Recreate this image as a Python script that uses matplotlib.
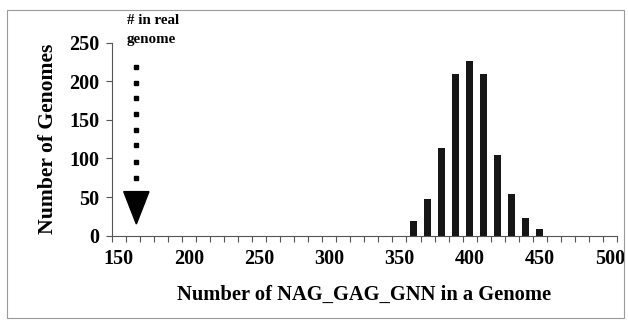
import numpy as np
import matplotlib
matplotlib.use('Agg')
import matplotlib.pyplot as plt
from matplotlib.patches import Rectangle, Polygon

# histogram of motif counts in simulated genomes
motif_counts = [360, 370, 380, 390, 400, 410, 420, 430, 440, 450]
num_genomes = [19, 47, 114, 210, 227, 210, 105, 54, 23, 8]
x_labels = [150, 200, 250, 300, 350, 400, 450, 500]
y_ticks = [0, 50, 100, 150, 200, 250]
real_count = 162.5

plt.rcParams['font.family'] = ['Liberation Serif', 'DejaVu Serif']
plt.rcParams['font.weight'] = 'bold'

fig = plt.figure(figsize=(6.28, 3.29), dpi=100)
ax = fig.add_axes([0.178, 0.284, 0.8045, 0.586])

ax.bar(motif_counts, num_genomes, width=5, color='#161616')

ax.set_xlim(145, 505)
ax.set_ylim(0, 250)
ax.set_xticks(np.arange(145, 506, 10))
ax.set_xticklabels([])
ax.set_xticks(x_labels, minor=True)
ax.set_xticklabels([str(v) for v in x_labels], minor=True)
ax.tick_params(axis='x', which='major', length=4, width=0.8, color='#555555', direction='out')
ax.tick_params(axis='x', which='minor', length=0, pad=10, labelsize=14.5)
ax.set_yticks(y_ticks)
ax.set_yticklabels([str(v) for v in y_ticks])
ax.tick_params(axis='y', length=4, width=0.8, color='#555555', direction='out', pad=5, labelsize=14.5)

for s in ['top', 'right']:
    ax.spines[s].set_visible(False)
for s in ['left', 'bottom']:
    ax.spines[s].set_color('#555555')
    ax.spines[s].set_linewidth(0.8)

ax.set_xlabel('Number of NAG_GAG_GNN in a Genome', fontsize=14.8, fontweight='bold', labelpad=11)
ax.set_ylabel('Number of Genomes', fontsize=15.6, fontweight='bold', labelpad=8)

# arrow marking the count in the real genome
dots_y = [218, 198, 178, 157, 137, 117, 96, 75]
ax.plot([real_count] * len(dots_y), dots_y, linestyle='none', marker='s',
        markersize=2.8, color='black')
ax.add_patch(Polygon([[real_count - 9, 57], [real_count + 9, 57], [real_count, 15]],
                     closed=True, color='black'))
fig.text(127 / 628, 1 - 14 / 329, '# in real\ngenome', ha='left', va='top',
         fontsize=10.8, fontweight='bold', linespacing=1.55)

fig.patches.append(Rectangle((7 / 628, 11 / 329), 617 / 628, 308 / 329,
                             transform=fig.transFigure, fill=False,
                             edgecolor='#9a9a9a', linewidth=0.8))

fig.savefig('out.png', dpi=100)
